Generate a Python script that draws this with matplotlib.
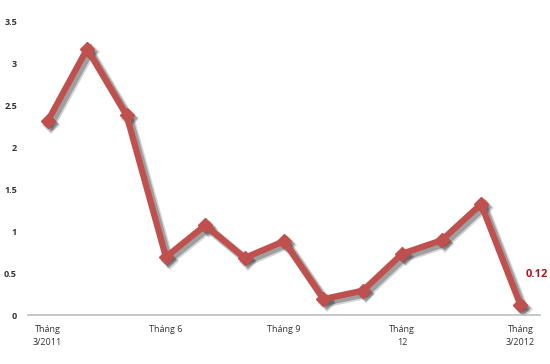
import matplotlib
matplotlib.use('Agg')
import matplotlib.pyplot as plt
import matplotlib.transforms as mtransforms

# Gia tri theo thang, 3/2011 -> 3/2012
values = [2.31, 3.17, 2.38, 0.69, 1.07, 0.68, 0.88, 0.19, 0.29, 0.73, 0.89, 1.32, 0.12]
tick_pos = [0, 3, 6, 9, 12]
tick_labels = ['Tháng\n3/2011', 'Tháng 6', 'Tháng 9', 'Tháng\n12', 'Tháng\n3/2012']
y_ticks = [0, 0.5, 1, 1.5, 2, 2.5, 3, 3.5]
last_label = '0.12'

plt.rcParams['font.family'] = ['Open Sans', 'DejaVu Sans']

fig = plt.figure(figsize=(5.5, 3.64), dpi=100)
ax = fig.add_axes([0.051, 0.1346, 0.931, 0.8074])

x = list(range(len(values)))

# bong do (shadow) lech xuong ben phai
for dx, lw, a in [(2.6, 6.5, 0.18), (2.2, 5.0, 0.3)]:
    tr = mtransforms.offset_copy(ax.transData, fig=fig, x=dx, y=-dx, units='points')
    ax.plot(x, values, color='#202020', linewidth=lw, alpha=a, marker='D',
            markersize=8 + (lw - 5), markeredgewidth=0, solid_joinstyle='miter',
            transform=tr, zorder=2)

ax.plot(x, values, color='#c0504d', linewidth=4.5, marker='D', markersize=7.5,
        markerfacecolor='#c0504d', markeredgecolor='#c0504d', solid_joinstyle='miter',
        zorder=3)

ax.annotate(last_label, (x[-1], values[-1]), xytext=(4, 22), textcoords='offset points',
            color='#a31b1b', fontsize=8, fontweight='bold', ha='left', va='center')

ax.set_xlim(-0.5, len(values) - 0.5)
ax.set_ylim(0, 3.5)
ax.set_yticks(y_ticks)
ax.set_yticklabels(['0', '0.5', '1', '1.5', '2', '2.5', '3', '3.5'], fontsize=6.5,
                   fontweight='bold', color='#333333')
ax.set_xticks(tick_pos)
ax.set_xticklabels(tick_labels, fontsize=6.5, color='#333333', linespacing=1.6)
ax.tick_params(axis='both', length=0)
ax.tick_params(axis='x', pad=7)
ax.tick_params(axis='y', pad=8)

for s in ['top', 'right', 'left']:
    ax.spines[s].set_visible(False)
ax.spines['bottom'].set_color('#bfbfbf')
ax.spines['bottom'].set_linewidth(1.2)

plt.savefig('out.png', dpi=100)
